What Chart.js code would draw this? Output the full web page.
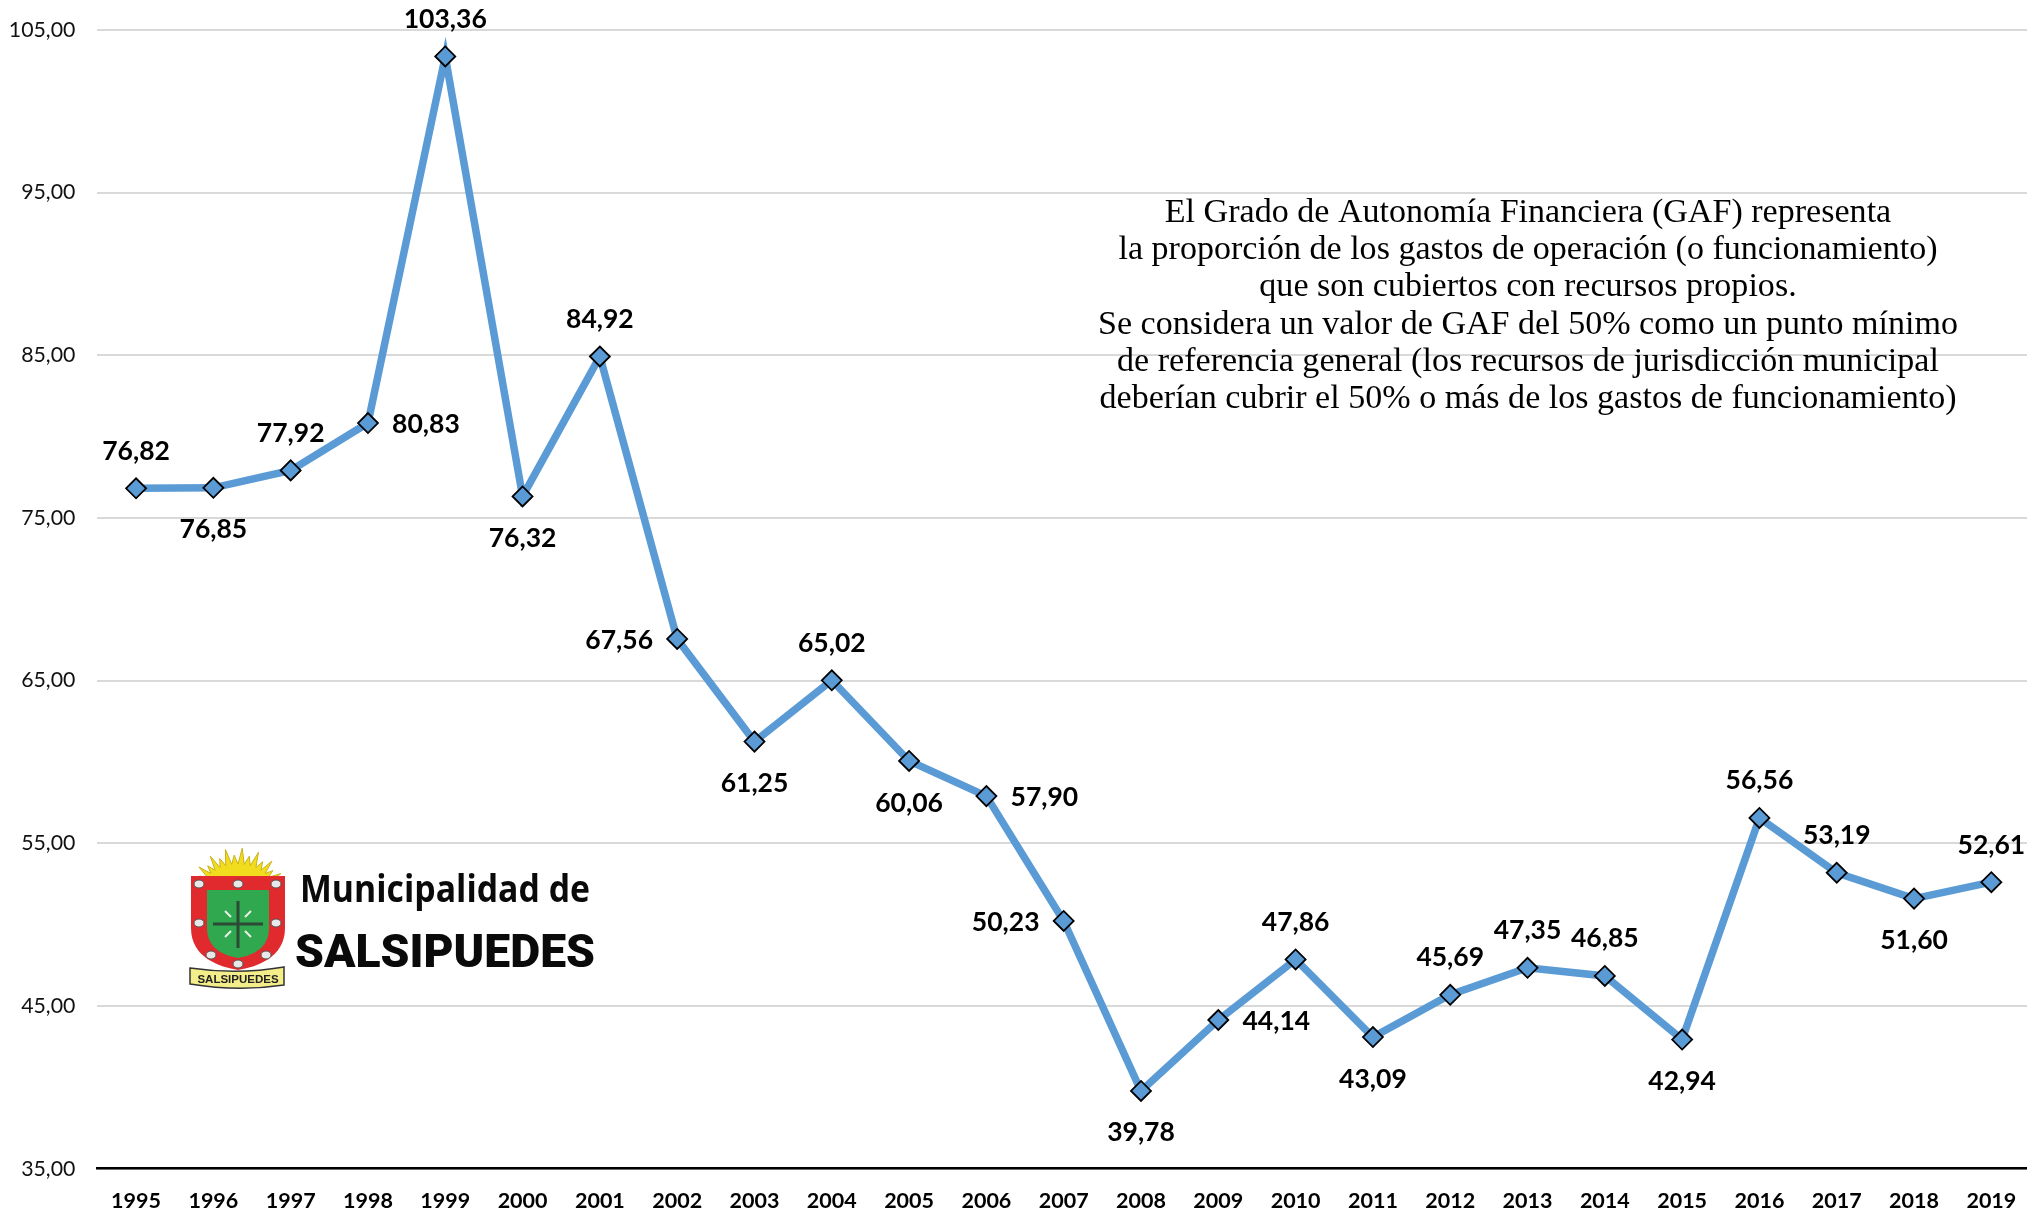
<!DOCTYPE html>
<html lang="es"><head><meta charset="utf-8">
<style>html,body{margin:0;padding:0;background:#fff;overflow:hidden;width:2027px;height:1211px}canvas{display:block}</style>
<script src="https://cdn.jsdelivr.net/npm/chart.js@4"></script>
</head><body><canvas id="c" width="2030" height="1211"></canvas>
<script>
const years=['1995','1996','1997','1998','1999','2000','2001','2002','2003','2004','2005','2006','2007','2008','2009','2010','2011','2012','2013','2014','2015','2016','2017','2018','2019'];
const gaf=[76.82,76.85,77.92,80.83,103.36,76.32,84.92,67.56,61.25,65.02,60.06,57.90,50.23,39.78,44.14,47.86,43.09,45.69,47.35,46.85,42.94,56.56,53.19,51.60,52.61];
const labelSides=['t','b','t','r','t','b','t','l','b','t','b','r','l','b','r','t','b','t','t','t','b','t','t','b','t'];
const noteLines=['El Grado de Autonomía Financiera (GAF) representa','la proporción de los gastos de operación (o funcionamiento)','que son cubiertos con recursos propios.','Se considera un valor de GAF del 50% como un punto mínimo','de referencia general (los recursos de jurisdicción municipal','deberían cubrir el 50% o más de los gastos de funcionamiento)'];
const fmt=v=>v.toFixed(2).replace('.',',');

function drawLogo(c){
  // sun
  c.fillStyle='#f2dc1e';c.strokeStyle='#c9b21a';c.lineWidth=1;c.beginPath();
  const cx=238,cy=888,n=17;
  for(let i=0;i<=2*n;i++){const a=Math.PI*(1-i/(2*n));const r=i%2?34:(i%4?46:41);const ry=i%2?24:(i%4?40:33);
    const x=cx+Math.cos(a)*r,y=cy-Math.sin(a)*ry;i?c.lineTo(x,y):c.moveTo(x,y);}
  c.closePath();c.fill();c.stroke();
  // shield
  const shield=(x0,x1,y0,ym,y1,col)=>{const m=(x0+x1)/2;c.fillStyle=col;c.beginPath();c.moveTo(x0,y0);c.lineTo(x1,y0);c.lineTo(x1,ym);
    c.bezierCurveTo(x1,y1-12,m+18,y1-3,m,y1);c.bezierCurveTo(m-18,y1-3,x0,y1-12,x0,ym);c.closePath();c.fill();};
  shield(191,285,876,928,970,'#e02a2e');
  shield(207,269,890,928,958,'#2fa84f');
  // studs
  [[199,884],[238,884],[276,884],[199,923],[276,923],[211,955],[266,955],[238,964]].forEach(p=>{c.fillStyle='#e8e8e8';c.strokeStyle='#555';c.lineWidth=1;c.beginPath();c.ellipse(p[0],p[1],5,4,0,0,7);c.fill();c.stroke();});
  // cross
  c.strokeStyle='#2c4a35';c.lineWidth=3;c.beginPath();c.moveTo(238,901);c.lineTo(238,948);c.moveTo(213,924);c.lineTo(263,924);c.stroke();
  c.strokeStyle='#e8efe8';c.lineWidth=2;c.beginPath();c.moveTo(225,911);c.lineTo(231,917);c.moveTo(251,911);c.lineTo(245,917);c.moveTo(225,937);c.lineTo(231,931);c.moveTo(251,937);c.lineTo(245,931);c.stroke();
  // ribbon
  c.fillStyle='#f4ee8a';c.strokeStyle='#333';c.lineWidth=1.5;c.beginPath();c.moveTo(190,968);c.quadraticCurveTo(238,975,284,967);c.lineTo(284,985);c.quadraticCurveTo(238,992,190,984);c.closePath();c.fill();c.stroke();
  c.fillStyle='#222';c.font='bold 11.5px "Liberation Sans"';c.textAlign='center';c.textBaseline='middle';c.fillText('SALSIPUEDES',238,980);
  // wordmark
  c.fillStyle='#0a0a0a';c.textAlign='left';c.textBaseline='alphabetic';
  fit(c,'Municipalidad de','700 37px "Open Sans"',300,902,290);
  fit(c,'SALSIPUEDES','900 46px Roboto',295,967,300);
}
function fit(c,t,font,x,y,w){c.save();c.font=font;const s=w/c.measureText(t).width;c.translate(x,y);c.scale(s,1);c.fillText(t,0,0);c.restore();}

const overlay={id:'overlay',afterDatasetsDraw(ch){
  const c=ch.ctx,m=ch.getDatasetMeta(0).data;c.save();
  c.font='bold 26.5px Lato';c.fillStyle='#000';c.textAlign='center';c.textBaseline='middle';
  m.forEach((p,i)=>{const s=labelSides[i];
    const dx=s==='l'?-58:s==='r'?58:0,dy=s==='t'?-37:s==='b'?42:1.5;
    c.fillText(fmt(gaf[i]),p.x+dx,p.y+dy);});
  // note
  c.font='33.5px "Liberation Serif"';c.fillStyle='#000';
  const sx=857/c.measureText(noteLines[5]).width;
  noteLines.forEach((l,i)=>{c.save();c.translate(1528,213+i*37.3);c.scale(sx,1);c.fillText(l,0,0);c.restore();});
  drawLogo(c);c.restore();
}};

new Chart(document.getElementById('c'),{type:'line',
  data:{labels:years,datasets:[{data:gaf,borderColor:'#5b9bd5',borderWidth:7.5,backgroundColor:'#5b9bd5',tension:0,
    pointStyle:'rectRot',pointRadius:10,pointHoverRadius:10,pointBorderColor:'#000',pointBackgroundColor:'#5b9bd5',pointBorderWidth:1.8,clip:false}]},
  plugins:[overlay],
  options:{responsive:false,animation:false,events:[],layout:{autoPadding:false,padding:{top:29.8,left:0,right:0,bottom:0}},
    plugins:{legend:{display:false},tooltip:{enabled:false},title:{display:false}},
    scales:{
      x:{offset:true,grid:{display:false,drawTicks:false},border:{display:true,color:'#000',width:2.5},
        ticks:{color:'#000',font:{family:'Lato',weight:'bold',size:21.5},padding:19,maxRotation:0,autoSkip:false},
        afterFit(s){s.height=42.3;s.paddingLeft=0;s.paddingRight=0;}},
      y:{min:35,max:105,grid:{color:'#d9d9d9',lineWidth:2,drawTicks:false},border:{display:false},
        ticks:{stepSize:10,color:'#111',font:{family:'Lato',size:21.3},padding:22,callback:v=>fmt(v)},
        afterFit(s){s.width=97.4;s.paddingTop=0;s.paddingBottom=0;}}
    }}});
</script></body></html>
